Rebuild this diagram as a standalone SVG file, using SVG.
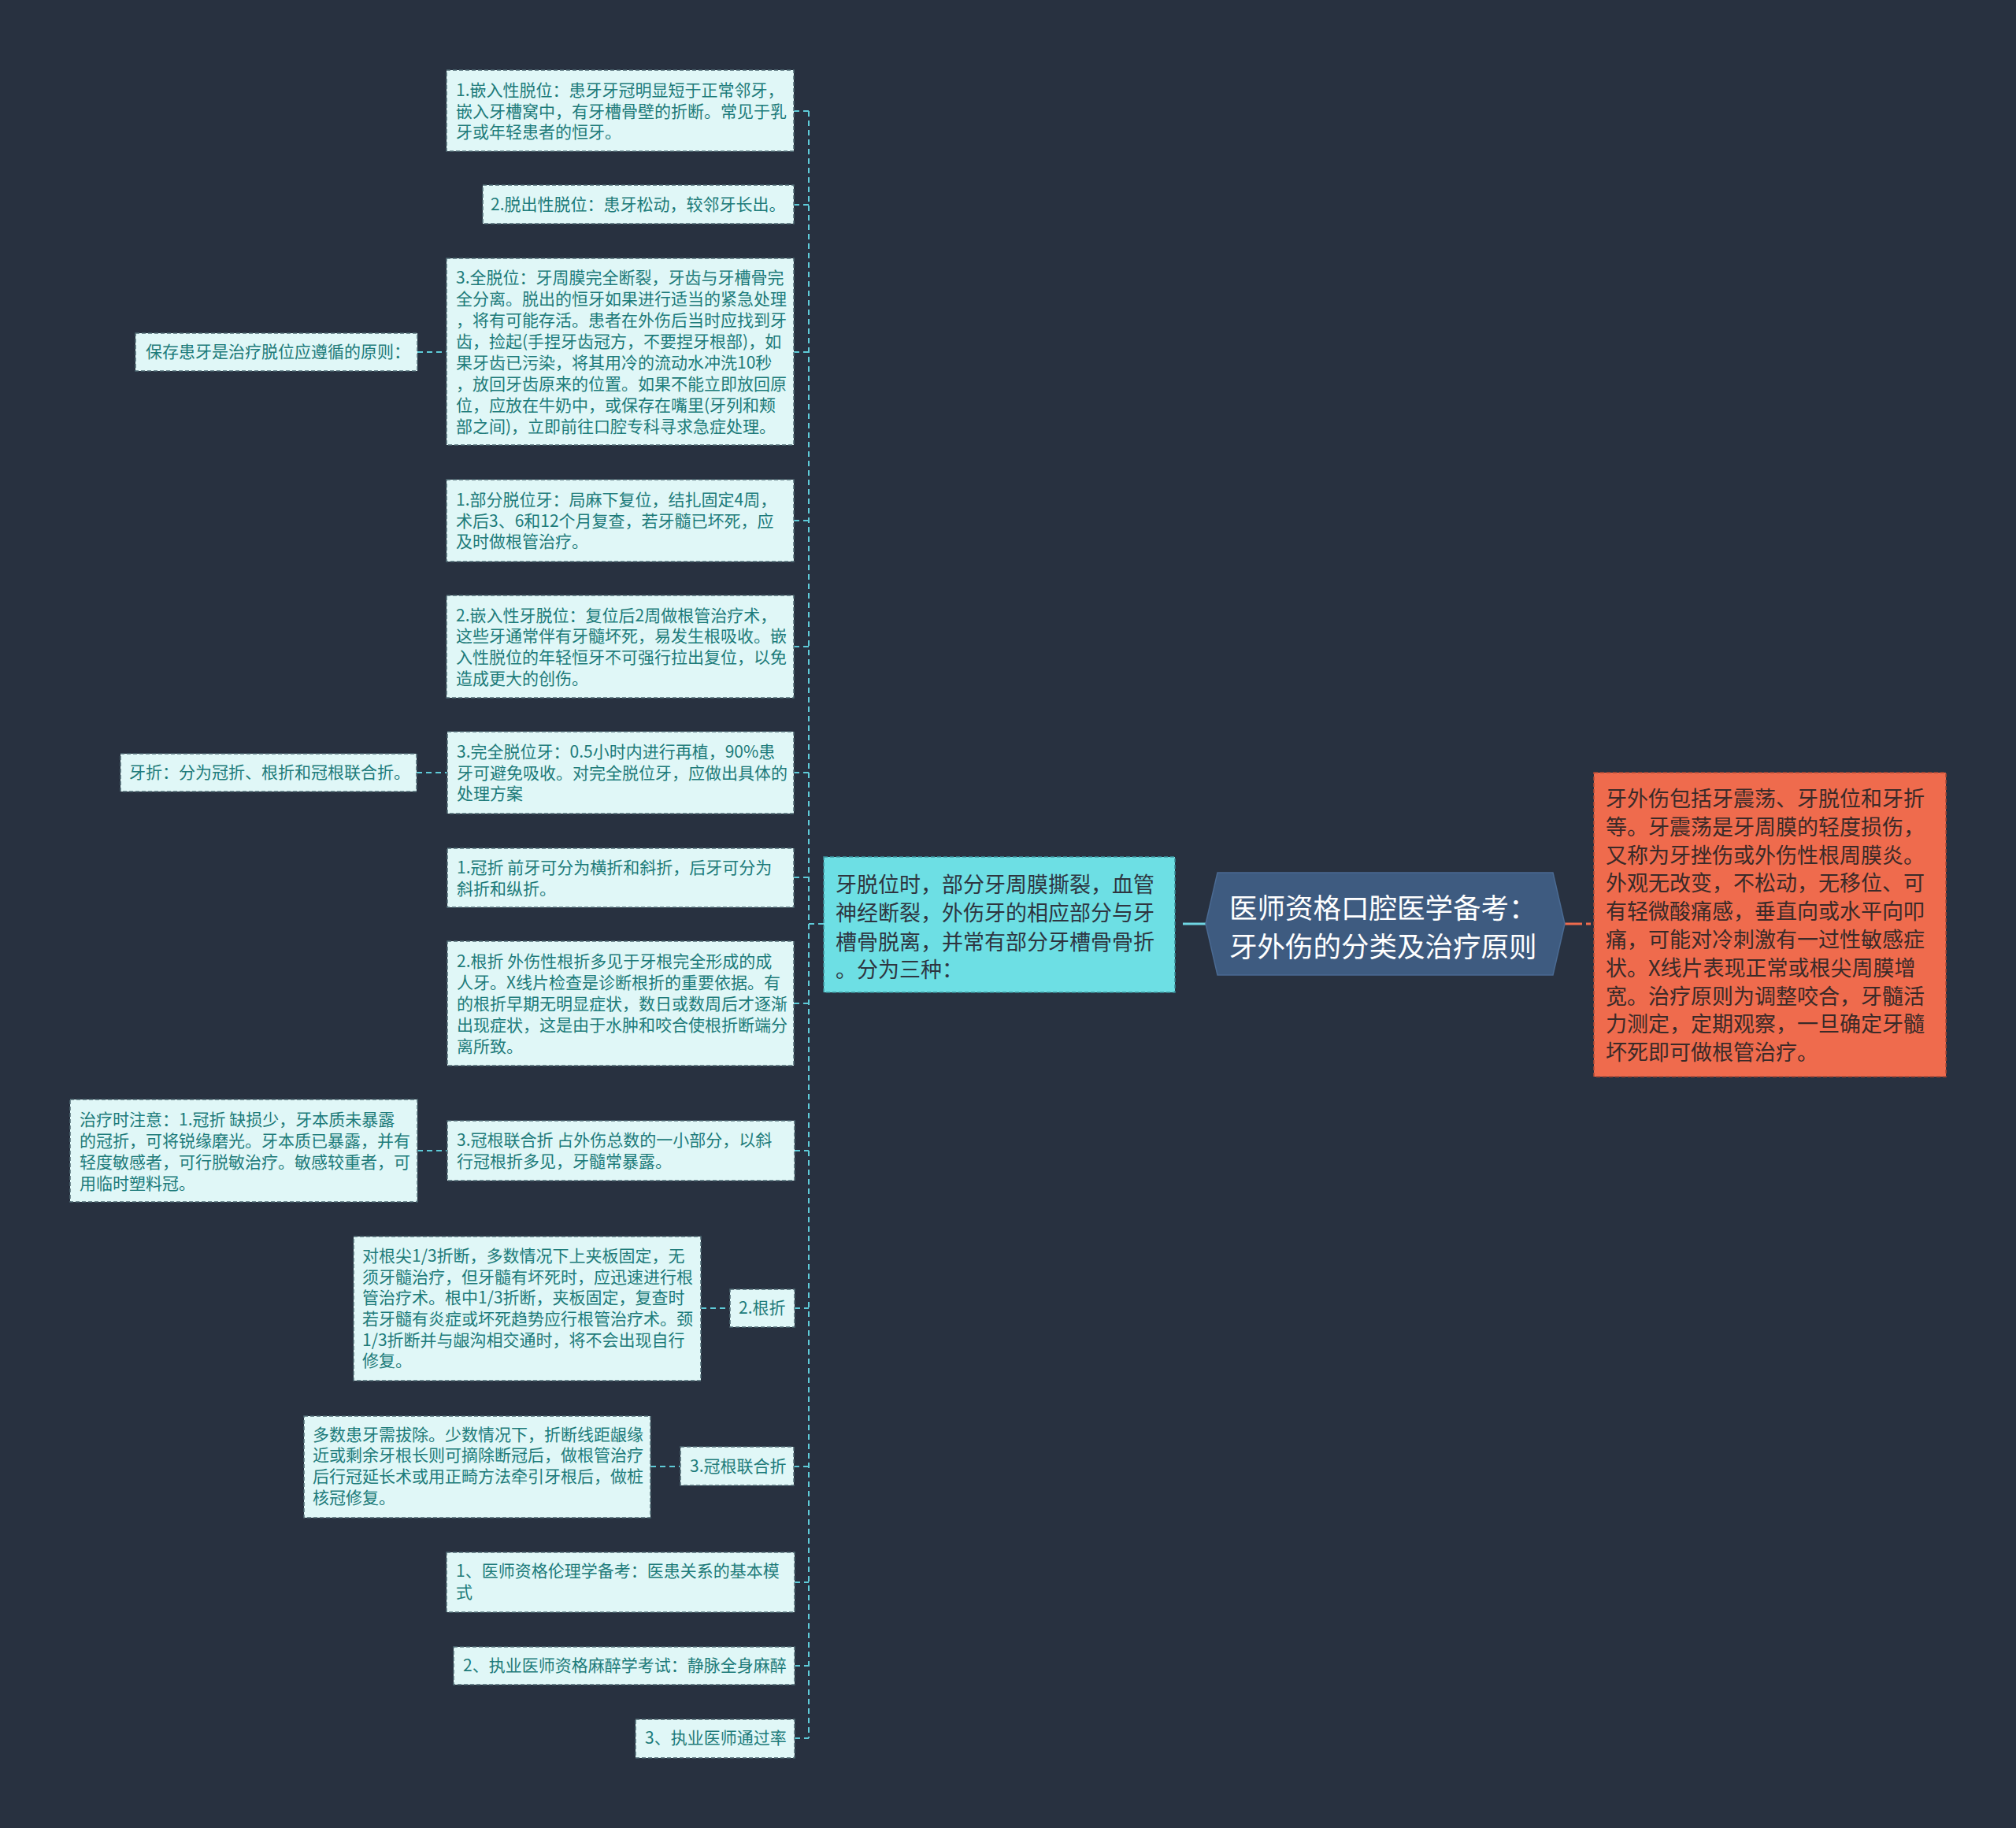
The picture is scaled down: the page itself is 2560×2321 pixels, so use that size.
<svg xmlns="http://www.w3.org/2000/svg" width="2560" height="2321" viewBox="0 0 2560 2321">
<style>
.leaf rect{fill:#e0f7f7;stroke:#4f6b74;stroke-width:1.5;stroke-dasharray:5 3}
.leaf text{fill:#1d7b7a;font-size:21px;font-family:"Noto Sans CJK SC","Noto Sans",sans-serif;dominant-baseline:central}
.conn{stroke:#5ecbd8;stroke-width:2;stroke-dasharray:7 5;fill:none}
</style>
<rect x="0" y="0" width="2560" height="2321" fill="#283140"/>
<g id="connectors">
<path class="conn" d="M1027 141 V2207"/>
<path class="conn" d="M1008 141 H1027 M1008 260 H1027 M1008 447 H1027 M1008 661 H1027 M1008 821 H1027 M1008 981 H1027 M1008 1114 H1027 M1008 1274 H1027 M1009 1461 H1027 M1009 1661 H1027 M1008 1862 H1027 M1009 2009 H1027 M1009 2115 H1027 M1009 2207 H1027 M1027 1173 H1046"/>
<path class="conn" d="M530 447 H567 M529 981 H568 M530 1461 H568 M890 1661 H927 M826 1862 H864"/>
<path d="M1502 1173 H1531" stroke="#6fd6e3" stroke-width="3" fill="none"/>
<path d="M1987 1173 H2024" stroke="#ef6b4d" stroke-width="3" stroke-dasharray="22 5 6 4" fill="none"/>
</g>
<g id="root">
<polygon points="1546,1108 1972,1108 1987,1173 1972,1238 1546,1238 1531,1173" fill="#3e5b80" stroke="#4a6a92" stroke-width="1.5"/>
<text font-family="'Noto Sans CJK SC','Noto Sans',sans-serif" font-size="35.5" fill="#ffffff" dominant-baseline="central"><tspan x="1561" y="1150">医师资格口腔医学备考：</tspan><tspan x="1561" y="1199">牙外伤的分类及治疗原则</tspan></text>
</g>
<g id="summary">
<rect x="2024" y="981" width="447" height="386" fill="#ef6b4d" stroke="#b04a34" stroke-width="1.5" stroke-dasharray="5 3"/>
<text font-family="'Noto Sans CJK SC','Noto Sans',sans-serif" font-size="27" fill="#3a2a28" dominant-baseline="central">
<tspan x="2039" y="1012">牙外伤包括牙震荡、牙脱位和牙折</tspan>
<tspan x="2039" y="1048">等。牙震荡是牙周膜的轻度损伤，</tspan>
<tspan x="2039" y="1084">又称为牙挫伤或外伤性根周膜炎。</tspan>
<tspan x="2039" y="1119">外观无改变，不松动，无移位、可</tspan>
<tspan x="2039" y="1155">有轻微酸痛感，垂直向或水平向叩</tspan>
<tspan x="2039" y="1191">痛，可能对冷刺激有一过性敏感症</tspan>
<tspan x="2039" y="1227">状。X线片表现正常或根尖周膜增</tspan>
<tspan x="2039" y="1263">宽。治疗原则为调整咬合，牙髓活</tspan>
<tspan x="2039" y="1298">力测定，定期观察，一旦确定牙髓</tspan>
<tspan x="2039" y="1334">坏死即可做根管治疗。</tspan>
</text>
</g>
<g id="dislocation">
<rect x="1046" y="1088" width="446" height="172" fill="#6ddfe4" stroke="#3a8f98" stroke-width="1.5" stroke-dasharray="5 3"/>
<text font-family="'Noto Sans CJK SC','Noto Sans',sans-serif" font-size="27" fill="#2e3540" dominant-baseline="central">
<tspan x="1061" y="1121">牙脱位时，部分牙周膜撕裂，血管</tspan>
<tspan x="1061" y="1157">神经断裂，外伤牙的相应部分与牙</tspan>
<tspan x="1061" y="1194">槽骨脱离，并常有部分牙槽骨骨折</tspan>
<tspan x="1061" y="1229">。分为三种：</tspan>
</text>
</g>
<g id="n1" class="leaf">
<rect x="567" y="89" width="441" height="103"/>
<text><tspan x="579" y="113">1.嵌入性脱位：患牙牙冠明显短于正常邻牙，</tspan><tspan x="579" y="140">嵌入牙槽窝中，有牙槽骨壁的折断。常见于乳</tspan><tspan x="579" y="166">牙或年轻患者的恒牙。</tspan></text>
</g>
<g id="n2" class="leaf">
<rect x="613" y="235" width="395" height="49"/>
<text x="623" y="258">2.脱出性脱位：患牙松动，较邻牙长出。</text>
</g>
<g id="n3" class="leaf">
<rect x="567" y="328" width="441" height="237"/>
<text><tspan x="579" y="351">3.全脱位：牙周膜完全断裂，牙齿与牙槽骨完</tspan><tspan x="579" y="378">全分离。脱出的恒牙如果进行适当的紧急处理</tspan><tspan x="579" y="405">，将有可能存活。患者在外伤后当时应找到牙</tspan><tspan x="579" y="432">齿，捡起(手捏牙齿冠方，不要捏牙根部)，如</tspan><tspan x="579" y="459">果牙齿已污染，将其用冷的流动水冲洗10秒</tspan><tspan x="579" y="486">，放回牙齿原来的位置。如果不能立即放回原</tspan><tspan x="579" y="513">位，应放在牛奶中，或保存在嘴里(牙列和颊</tspan><tspan x="579" y="540">部之间)，立即前往口腔专科寻求急症处理。</tspan></text>
</g>
<g id="n3a" class="leaf">
<rect x="172" y="423" width="358" height="48"/>
<text x="185" y="445">保存患牙是治疗脱位应遵循的原则：</text>
</g>
<g id="n4" class="leaf">
<rect x="567" y="609" width="441" height="104"/>
<text><tspan x="579" y="633">1.部分脱位牙：局麻下复位，结扎固定4周，</tspan><tspan x="579" y="660">术后3、6和12个月复查，若牙髓已坏死，应</tspan><tspan x="579" y="686">及时做根管治疗。</tspan></text>
</g>
<g id="n5" class="leaf">
<rect x="567" y="756" width="441" height="130"/>
<text><tspan x="579" y="780">2.嵌入性牙脱位：复位后2周做根管治疗术，</tspan><tspan x="579" y="806">这些牙通常伴有牙髓坏死，易发生根吸收。嵌</tspan><tspan x="579" y="833">入性脱位的年轻恒牙不可强行拉出复位，以免</tspan><tspan x="579" y="860">造成更大的创伤。</tspan></text>
</g>
<g id="n6" class="leaf">
<rect x="568" y="929" width="440" height="104"/>
<text><tspan x="580" y="953">3.完全脱位牙：0.5小时内进行再植，90%患</tspan><tspan x="580" y="980">牙可避免吸收。对完全脱位牙，应做出具体的</tspan><tspan x="580" y="1006">处理方案</tspan></text>
</g>
<g id="n6a" class="leaf">
<rect x="153" y="957" width="376" height="48"/>
<text x="164" y="979">牙折：分为冠折、根折和冠根联合折。</text>
</g>
<g id="n7" class="leaf">
<rect x="568" y="1077" width="440" height="75"/>
<text><tspan x="580" y="1100">1.冠折 前牙可分为横折和斜折，后牙可分为</tspan><tspan x="580" y="1127">斜折和纵折。</tspan></text>
</g>
<g id="n8" class="leaf">
<rect x="568" y="1195" width="440" height="158"/>
<text><tspan x="580" y="1219">2.根折 外伤性根折多见于牙根完全形成的成</tspan><tspan x="580" y="1246">人牙。X线片检查是诊断根折的重要依据。有</tspan><tspan x="580" y="1273">的根折早期无明显症状，数日或数周后才逐渐</tspan><tspan x="580" y="1300">出现症状，这是由于水肿和咬合使根折断端分</tspan><tspan x="580" y="1327">离所致。</tspan></text>
</g>
<g id="n9" class="leaf">
<rect x="568" y="1423" width="441" height="76"/>
<text><tspan x="580" y="1446">3.冠根联合折 占外伤总数的一小部分，以斜</tspan><tspan x="580" y="1473">行冠根折多见，牙髓常暴露。</tspan></text>
</g>
<g id="n9a" class="leaf">
<rect x="89" y="1396" width="441" height="130"/>
<text><tspan x="101" y="1420">治疗时注意：1.冠折 缺损少，牙本质未暴露</tspan><tspan x="101" y="1447">的冠折，可将锐缘磨光。牙本质已暴露，并有</tspan><tspan x="101" y="1474">轻度敏感者，可行脱敏治疗。敏感较重者，可</tspan><tspan x="101" y="1501">用临时塑料冠。</tspan></text>
</g>
<g id="n10" class="leaf">
<rect x="927" y="1637" width="82" height="48"/>
<text x="938" y="1659">2.根折</text>
</g>
<g id="n10a" class="leaf">
<rect x="449" y="1570" width="441" height="183"/>
<text><tspan x="460" y="1593">对根尖1/3折断，多数情况下上夹板固定，无</tspan><tspan x="460" y="1620">须牙髓治疗，但牙髓有坏死时，应迅速进行根</tspan><tspan x="460" y="1646">管治疗术。根中1/3折断，夹板固定，复查时</tspan><tspan x="460" y="1673">若牙髓有炎症或坏死趋势应行根管治疗术。颈</tspan><tspan x="460" y="1700">1/3折断并与龈沟相交通时，将不会出现自行</tspan><tspan x="460" y="1726">修复。</tspan></text>
</g>
<g id="n11" class="leaf">
<rect x="864" y="1837" width="144" height="49"/>
<text x="876" y="1860">3.冠根联合折</text>
</g>
<g id="n11a" class="leaf">
<rect x="386" y="1798" width="440" height="129"/>
<text><tspan x="397" y="1820">多数患牙需拔除。少数情况下，折断线距龈缘</tspan><tspan x="397" y="1846">近或剩余牙根长则可摘除断冠后，做根管治疗</tspan><tspan x="397" y="1873">后行冠延长术或用正畸方法牵引牙根后，做桩</tspan><tspan x="397" y="1900">核冠修复。</tspan></text>
</g>
<g id="n12" class="leaf">
<rect x="567" y="1971" width="442" height="76"/>
<text><tspan x="579" y="1993">1、医师资格伦理学备考：医患关系的基本模</tspan><tspan x="579" y="2020">式</tspan></text>
</g>
<g id="n13" class="leaf">
<rect x="576" y="2091" width="433" height="48"/>
<text x="588" y="2113">2、执业医师资格麻醉学考试：静脉全身麻醉</text>
</g>
<g id="n14" class="leaf">
<rect x="807" y="2183" width="202" height="49"/>
<text x="819" y="2205">3、执业医师通过率</text>
</g>
</svg>
